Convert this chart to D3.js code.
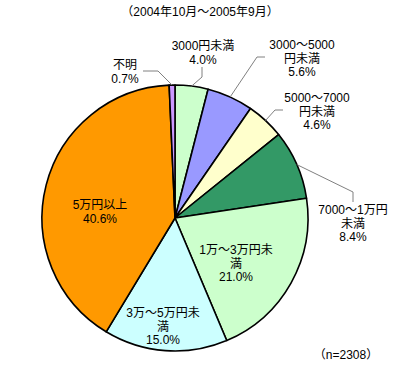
<!DOCTYPE html>
<html>
<head>
<meta charset="utf-8">
<script src="https://cdn.jsdelivr.net/npm/d3@7"></script>
<style>
  body { margin: 0; background: #fff; }
  text { font-family: "Liberation Sans", "Noto Sans CJK JP", sans-serif; font-size: 12px; fill: #000; }
</style>
</head>
<body>
<svg id="pie" width="400" height="374"></svg>
<script>
// data
const categories = ["3000円未満", "3000～5000円未満", "5000～7000円未満", "7000～1万円未満",
  "1万～3万円未満", "3万～5万円未満", "5万円以上", "不明"];
const percents = [4.0, 5.6, 4.6, 8.4, 21.0, 15.0, 40.6, 0.7];
const colors = ["#ccffcc", "#9999ff", "#ffffcc", "#339966", "#ccffcc", "#ccffff", "#ff9900", "#cc99ff"];
const title = "（2004年10月～2005年9月）";
const note = "（n=2308）";

// how each label wraps
const labelLines = [
  ["3000円未満"], ["3000～5000", "円未満"], ["5000～7000", "円未満"], ["7000～1万円", "未満"],
  ["1万～3万円未", "満"], ["3万～5万円未", "満"], ["5万円以上"], ["不明"]
];

// label layout: text center (first line) and leader elbow points
const labelLayout = [
  { x: 203, y: 46, leader: [[202, 67], [202, 77]] },
  { x: 302, y: 45, leader: [[265, 57], [257, 57]] },
  { x: 317, y: 98, leader: [[283, 110], [275, 110]] },
  { x: 353, y: 210, leader: [[353, 202], [353, 192]] },
  { x: 236, y: 250, leader: null },
  { x: 163, y: 313, leader: null },
  { x: 100, y: 205, leader: null },
  { x: 125, y: 65, leader: [[143, 71], [158, 71]] }
];

const svg = d3.select("#pie");
const cx = 175, cy = 218, radius = 133;
const lineH = 13.5;

const data = categories.map((c, i) => ({ category: c, value: percents[i], color: colors[i], i: i }));

const pie = d3.pie().value(d => d.value).sort(null);
const arcs = pie(data);

const arc = d3.arc().innerRadius(0).outerRadius(radius);
const edgeArc = d3.arc().innerRadius(radius).outerRadius(radius);

svg.append("text")
  .attr("x", 200)
  .attr("y", 12)
  .attr("text-anchor", "middle")
  .attr("dominant-baseline", "central")
  .text(title);

const g = svg.append("g").attr("transform", `translate(${cx},${cy})`);

g.selectAll("path.slice")
  .data(arcs)
  .enter()
  .append("path")
  .attr("class", "slice")
  .attr("d", arc)
  .attr("fill", d => d.data.color)
  .attr("stroke", "#000")
  .attr("stroke-width", 1.6)
  .attr("stroke-linejoin", "round");

// leader lines
const line = d3.line();
arcs.forEach((d, i) => {
  const lay = labelLayout[i];
  if (!lay.leader) return;
  const p = edgeArc.centroid(d);
  const pts = lay.leader.concat([[p[0] + cx, p[1] + cy]]);
  svg.append("path")
    .attr("d", line(pts))
    .attr("fill", "none")
    .attr("stroke", "#808080")
    .attr("stroke-width", 1);
});

// labels
arcs.forEach((d, i) => {
  const lay = labelLayout[i];
  const lines = labelLines[i].concat([d3.format(".1f")(d.data.value) + "%"]);
  const t = svg.append("text")
    .attr("text-anchor", "middle")
    .attr("dominant-baseline", "central");
  lines.forEach((s, k) => {
    t.append("tspan")
      .attr("x", lay.x)
      .attr("y", lay.y + k * lineH)
      .text(s);
  });
});

svg.append("text")
  .attr("x", 346)
  .attr("y", 355)
  .attr("text-anchor", "middle")
  .attr("dominant-baseline", "central")
  .text(note);
</script>
</body>
</html>
